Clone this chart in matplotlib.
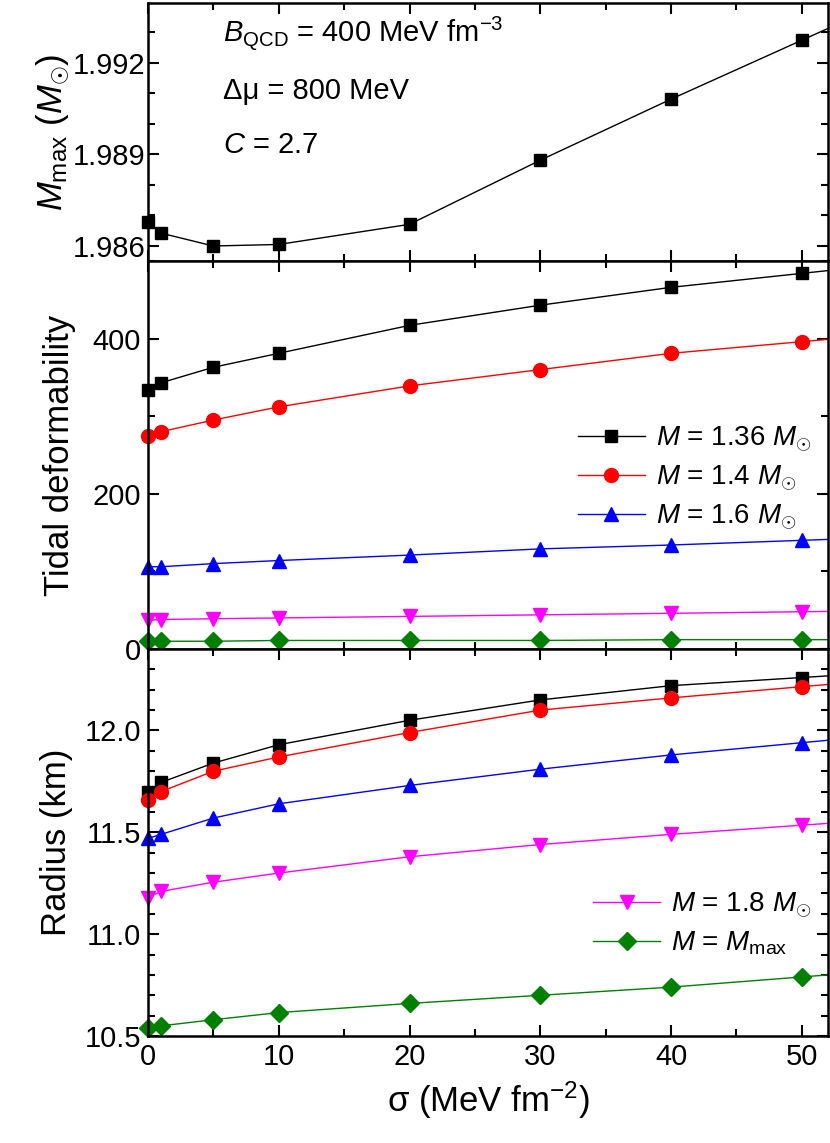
import numpy as np
import matplotlib
matplotlib.use("Agg")
import matplotlib.pyplot as plt
from matplotlib.ticker import MultipleLocator, FormatStrFormatter

plt.rcParams['font.family'] = 'Liberation Sans'
plt.rcParams['mathtext.fontset'] = 'custom'
plt.rcParams['mathtext.rm'] = 'Liberation Sans'
plt.rcParams['mathtext.it'] = 'Liberation Sans:italic'
plt.rcParams['axes.unicode_minus'] = False

sigma = [0, 1, 5, 10, 20, 30, 40, 50]
mmax = [1.98678, 1.98642, 1.98600, 1.98605, 1.98671, 1.98881, 1.99081, 1.99274]

tidal_136 = [334, 343, 363, 381, 417, 443, 466, 484]
tidal_14 = [275, 280, 295, 312, 339, 360, 381, 396]
tidal_16 = [106, 106, 110, 114, 121, 129, 134, 140]
tidal_18 = [37, 38, 39, 40, 42, 44, 46, 48]
tidal_max = [10, 10, 10, 11, 11, 11, 12, 12]

r_136 = [11.70, 11.745, 11.84, 11.93, 12.05, 12.15, 12.22, 12.26]
r_14 = [11.66, 11.70, 11.80, 11.87, 11.99, 12.10, 12.16, 12.215]
r_16 = [11.47, 11.49, 11.57, 11.64, 11.73, 11.81, 11.88, 11.94]
r_18 = [11.18, 11.21, 11.255, 11.30, 11.38, 11.44, 11.49, 11.535]
r_max = [10.54, 10.55, 10.58, 10.615, 10.66, 10.70, 10.74, 10.79]

labels = [r'$M$ = 1.36 $M_{\odot}$', r'$M$ = 1.4 $M_{\odot}$', r'$M$ = 1.6 $M_{\odot}$',
          r'$M$ = 1.8 $M_{\odot}$', r'$M$ = $M_{\rm max}$']
colors = ['black', 'red', 'blue', 'magenta', 'green']
markers = ['s', 'o', '^', 'v', 'D']
msizes = [9, 10, 10, 10, 9]

XMAX = 52

def ext(x, y):
    x = list(x); y = list(y)
    slope = (y[-1] - y[-2]) / (x[-1] - x[-2])
    return x + [XMAX + 1], y + [y[-1] + slope * (XMAX + 1 - x[-1])]

fig = plt.figure(figsize=(8.3, 11.43), dpi=100)
W = 0.9976 - 0.1783
ax1 = fig.add_axes([0.1783, 0.7717, W, 0.2257])
ax2 = fig.add_axes([0.1783, 0.4322, W, 0.3395])
ax3 = fig.add_axes([0.1783, 0.0936, W, 0.3386])

TS = 21

def style(ax):
    ax.set_xlim(0, XMAX)
    ax.xaxis.set_major_locator(MultipleLocator(10))
    ax.xaxis.set_minor_locator(MultipleLocator(5))
    ax.tick_params(which='both', direction='in', top=True, right=True, labelsize=TS, width=1.5)
    ax.tick_params(which='major', length=8, pad=5)
    ax.tick_params(which='minor', length=5)
    for s in ax.spines.values():
        s.set_linewidth(1.8)

# Top
xe, ye = ext(sigma, mmax)
ax1.plot(xe, ye, color='black', lw=1)
ax1.plot(sigma, mmax, 's', color='black', ms=9, clip_on=False)
ax1.set_ylim(1.98551, 1.99396)
ax1.yaxis.set_major_locator(MultipleLocator(0.003))
ax1.yaxis.set_minor_locator(MultipleLocator(0.001))
ax1.yaxis.set_major_formatter(FormatStrFormatter('%.3f'))
style(ax1)
ax1.tick_params(axis='y', pad=2)
ax1.tick_params(labelbottom=False)
ax1.set_ylabel(r'$M_{\rm max}$ ($M_{\odot}$)', fontsize=25, labelpad=0)
ax1.text(0.11, 0.88, r'$B_{\rm QCD}$ = 400 MeV fm$^{-3}$', transform=ax1.transAxes, fontsize=21, va='center')
ax1.text(0.11, 0.66, 'Δμ = 800 MeV', transform=ax1.transAxes, fontsize=21, va='center')
ax1.text(0.11, 0.45, r'$C$ = 2.7', transform=ax1.transAxes, fontsize=21, va='center')

# Middle
tid = [tidal_136, tidal_14, tidal_16, tidal_18, tidal_max]
hs = []
for y, c, m, ms, lab in zip(tid, colors, markers, msizes, labels):
    xe, ye = ext(sigma, y)
    ax2.plot(xe, ye, color=c, lw=1)
    ax2.plot(sigma, y, m, color=c, ms=ms, clip_on=False)
    hs.append(plt.Line2D([], [], color=c, marker=m, ms=ms, lw=1, label=lab))
ax2.set_ylim(0, 500)
ax2.yaxis.set_major_locator(MultipleLocator(200))
ax2.yaxis.set_minor_locator(MultipleLocator(100))
style(ax2)
ax2.tick_params(labelbottom=False)
ax2.set_ylabel('Tidal deformability', fontsize=25, labelpad=12)
ax2.legend(handles=hs[:3], loc='center right', bbox_to_anchor=(1.0, 0.44), frameon=False,
           fontsize=20, handlelength=2.4, labelspacing=0.35, handletextpad=0.4, borderaxespad=0.2)

# Bottom
rad = [r_136, r_14, r_16, r_18, r_max]
for y, c, m, ms in zip(rad, colors, markers, msizes):
    xe, ye = ext(sigma, y)
    ax3.plot(xe, ye, color=c, lw=1)
    ax3.plot(sigma, y, m, color=c, ms=ms, clip_on=False)
ax3.set_ylim(10.5, 12.4)
ax3.yaxis.set_major_locator(MultipleLocator(0.5))
ax3.yaxis.set_minor_locator(MultipleLocator(0.1))
ax3.yaxis.set_major_formatter(FormatStrFormatter('%.1f'))
style(ax3)
ax3.set_ylabel('Radius (km)', fontsize=25, labelpad=8)
ax3.set_xlabel(r'σ (MeV fm$^{-2}$)', fontsize=25, labelpad=6)
ax3.legend(handles=hs[3:], loc='center right', bbox_to_anchor=(1.0, 0.29), frameon=False,
           fontsize=20, handlelength=2.4, labelspacing=0.35, handletextpad=0.4, borderaxespad=0.2)

fig.savefig('out.png', dpi=100)
